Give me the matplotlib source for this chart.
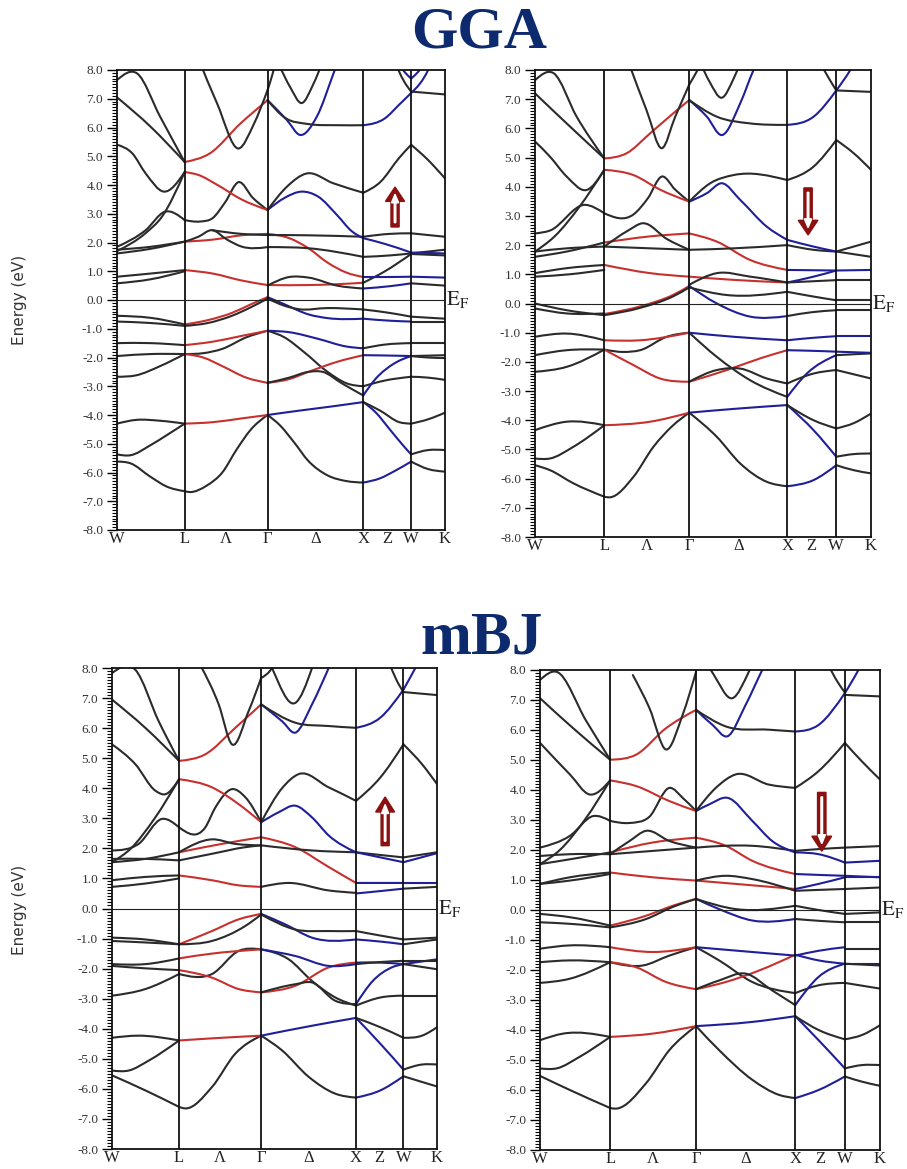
import matplotlib
matplotlib.use("Agg")
import matplotlib.pyplot as plt
import numpy as np
from matplotlib.path import Path
from matplotlib.patches import PathPatch, FancyArrow
from matplotlib.ticker import MultipleLocator

plt.rcParams['axes.unicode_minus'] = False
plt.rcParams['mathtext.fontset'] = 'stix'

# k-path (units of 2*pi/a): W - L - Gamma - X - W - K
k_labels = ['W', 'L', 'Λ', 'Γ', 'Δ', 'X', 'Z', 'W', 'K']
k_ticks = [0.0, 0.707, 1.140, 1.573, 2.073, 2.573, 2.823, 3.073, 3.427]
k_lines = [0.707, 1.573, 2.573, 3.073]
k_end = 3.427

# bands: (colour, k values, energies in eV); k=black, r=red, b=blue
gga_up_bands = [
    ('k', [0, 0.14, 0.35, 0.52, 0.707], [-5.62, -5.68, -6.15, -6.49, -6.65]),
    ('k', [0.707, 0.76, 0.94, 1.1, 1.25, 1.4, 1.573], [-6.65, -6.68, -6.45, -6.0, -5.2, -4.5, -4.0]),
    ('k', [1.573, 1.7, 1.85, 2.0, 2.2, 2.4, 2.573], [-4.0, -4.35, -4.95, -5.6, -6.1, -6.3, -6.35]),
    ('b', [2.573, 2.75, 2.9, 3.073], [-6.35, -6.2, -5.95, -5.62]),
    ('k', [3.073, 3.25, 3.427], [-5.62, -5.88, -5.97]),
    ('k', [0, 0.14, 0.35, 0.52, 0.707], [-5.37, -5.4, -5.05, -4.7, -4.3]),
    ('r', [0.707, 1.0, 1.3, 1.573], [-4.3, -4.25, -4.12, -4.0]),
    ('b', [1.573, 1.9, 2.25, 2.573], [-4.0, -3.85, -3.7, -3.55]),
    ('b', [2.573, 2.7, 2.85, 3.0, 3.073], [-3.55, -3.9, -4.5, -5.1, -5.37]),
    ('k', [3.073, 3.25, 3.427], [-5.37, -5.22, -5.22]),
    ('k', [0, 0.2, 0.45, 0.707], [-4.3, -4.17, -4.2, -4.3]),
    ('k', [2.573, 2.75, 2.95, 3.073], [-3.55, -3.85, -4.25, -4.3]),
    ('k', [3.073, 3.25, 3.427], [-4.3, -4.15, -3.92]),
    ('k', [0, 0.2, 0.45, 0.707], [-2.67, -2.62, -2.3, -1.88]),
    ('k', [0.707, 0.9, 1.1, 1.35, 1.573], [-1.88, -1.85, -1.7, -1.3, -1.07]),
    ('k', [1.573, 1.75, 1.95, 2.2, 2.4, 2.573], [-1.07, -1.3, -1.8, -2.5, -2.9, -3.0]),
    ('k', [2.573, 2.8, 3.073], [-3.0, -2.8, -2.67]),
    ('k', [3.073, 3.25, 3.427], [-2.67, -2.7, -2.78]),
    ('k', [0, 0.35, 0.707], [-1.95, -1.88, -1.88]),
    ('r', [0.707, 0.9, 1.1, 1.35, 1.573], [-1.88, -2.0, -2.3, -2.7, -2.88]),
    ('r', [1.573, 1.8, 2.0, 2.3, 2.573], [-2.88, -2.75, -2.5, -2.15, -1.92]),
    ('b', [2.573, 2.8, 3.073], [-1.92, -1.93, -1.95]),
    ('k', [3.073, 3.427], [-1.95, -1.92]),
    ('k', [1.573, 1.8, 2.0, 2.15, 2.35, 2.573], [-2.88, -2.7, -2.5, -2.5, -2.9, -3.32]),
    ('b', [2.573, 2.7, 2.9, 3.073], [-3.32, -2.75, -2.2, -1.95]),
    ('k', [3.073, 3.25, 3.427], [-1.95, -2.0, -2.02]),
    ('k', [0, 0.35, 0.707], [-1.5, -1.5, -1.57]),
    ('r', [0.707, 1.0, 1.3, 1.573], [-1.57, -1.45, -1.25, -1.07]),
    ('b', [1.573, 1.8, 2.1, 2.4, 2.573], [-1.07, -1.12, -1.35, -1.62, -1.68]),
    ('k', [2.573, 2.8, 3.073], [-1.68, -1.55, -1.5]),
    ('k', [3.073, 3.427], [-1.5, -1.5]),
    ('k', [0, 0.35, 0.707], [-0.55, -0.62, -0.85]),
    ('r', [0.707, 0.95, 1.2, 1.4, 1.573], [-0.85, -0.7, -0.45, -0.15, 0.1]),
    ('b', [1.573, 1.75, 2.0, 2.2, 2.573], [0.1, -0.15, -0.5, -0.63, -0.65]),
    ('b', [2.573, 2.85, 3.073], [-0.65, -0.72, -0.75]),
    ('k', [3.073, 3.427], [-0.75, -0.75]),
    ('k', [0, 0.35, 0.707], [-0.75, -0.8, -0.9]),
    ('k', [0.707, 0.95, 1.2, 1.4, 1.573], [-0.9, -0.8, -0.55, -0.25, 0.05]),
    ('k', [1.573, 1.75, 1.9, 2.2, 2.573], [0.05, -0.2, -0.32, -0.28, -0.33]),
    ('k', [2.573, 2.85, 3.073], [-0.33, -0.45, -0.58]),
    ('k', [3.073, 3.427], [-0.58, -0.65]),
    ('k', [0, 0.35, 0.707], [0.81, 0.92, 1.04]),
    ('r', [0.707, 1.0, 1.3, 1.573], [1.04, 0.92, 0.68, 0.52]),
    ('r', [1.573, 2.0, 2.3, 2.573], [0.52, 0.52, 0.55, 0.6]),
    ('k', [2.573, 2.8, 3.073], [0.6, 1.0, 1.6]),
    ('k', [3.073, 3.427], [1.6, 1.55]),
    ('k', [0, 0.35, 0.707], [0.58, 0.72, 1.0]),
    ('k', [1.573, 1.8, 2.0, 2.3, 2.573], [0.5, 0.8, 0.78, 0.5, 0.4]),
    ('b', [2.573, 2.85, 3.073], [0.4, 0.48, 0.58]),
    ('k', [3.073, 3.427], [0.58, 0.5]),
    ('k', [0, 0.35, 0.707], [1.62, 1.78, 2.03]),
    ('r', [0.707, 1.0, 1.3, 1.573], [2.03, 2.1, 2.25, 2.3]),
    ('r', [1.573, 1.8, 2.0, 2.2, 2.4, 2.573], [2.3, 2.15, 1.8, 1.3, 0.95, 0.8]),
    ('b', [2.573, 2.85, 3.073], [0.8, 0.8, 0.81]),
    ('b', [3.073, 3.427], [0.81, 0.78]),
    ('k', [0, 0.35, 0.707], [1.75, 1.85, 2.03]),
    ('k', [0.707, 0.85, 0.99, 1.15, 1.3, 1.573], [2.03, 2.2, 2.43, 2.1, 1.86, 1.84]),
    ('k', [1.573, 2.0, 2.573], [1.84, 1.8, 1.5]),
    ('k', [2.573, 2.85, 3.073], [1.5, 1.55, 1.62]),
    ('k', [3.073, 3.427], [1.62, 1.75]),
    ('k', [0.99, 1.3, 1.573], [2.43, 2.3, 2.26]),
    ('k', [1.573, 2.0, 2.573], [2.26, 2.25, 2.2]),
    ('k', [2.573, 2.85, 3.073], [2.2, 2.3, 2.32]),
    ('k', [3.073, 3.427], [2.32, 2.2]),
    ('k', [0, 0.3, 0.5, 0.707], [1.85, 2.43, 3.07, 2.78]),
    ('k', [0.707, 0.87, 1.0, 1.13, 1.27, 1.42, 1.573], [2.78, 2.73, 2.85, 3.4, 4.1, 3.55, 3.13]),
    ('b', [1.573, 1.75, 1.93, 2.1, 2.3, 2.45, 2.573], [3.13, 3.55, 3.77, 3.6, 2.95, 2.4, 2.15]),
    ('b', [2.573, 2.8, 3.073], [2.15, 1.95, 1.65]),
    ('b', [3.073, 3.427], [1.65, 1.62]),
    ('k', [0, 0.3, 0.47, 0.707], [1.7, 2.33, 2.9, 4.45]),
    ('r', [0.707, 0.85, 1.05, 1.3, 1.573], [4.45, 4.35, 4.0, 3.5, 3.13]),
    ('k', [1.573, 1.775, 1.98, 2.26, 2.573], [3.13, 3.94, 4.4, 4.06, 3.73]),
    ('k', [2.573, 2.75, 2.95, 3.073], [3.73, 4.1, 4.95, 5.4]),
    ('k', [3.073, 3.25, 3.427], [5.4, 4.87, 4.23]),
    ('k', [0, 0.16, 0.3, 0.49, 0.707], [5.4, 5.1, 4.4, 3.77, 4.45]),
    ('k', [0, 0.21, 0.45, 0.707], [7.65, 7.88, 6.38, 4.8]),
    ('r', [0.707, 0.97, 1.29, 1.573], [4.8, 5.1, 6.14, 6.95]),
    ('b', [1.573, 1.775, 1.914, 2.088, 2.262, 2.32], [6.95, 6.26, 5.74, 6.38, 7.88, 8.4]),
    ('b', [2.9, 3.0, 3.073], [8.4, 7.95, 7.7]),
    ('b', [3.073, 3.15, 3.25], [7.7, 7.95, 8.4]),
    ('k', [1.573, 1.75, 2.0, 2.3, 2.573], [6.95, 6.35, 6.12, 6.08, 6.08]),
    ('b', [2.573, 2.8, 2.95, 3.073], [6.08, 6.32, 6.8, 7.2]),
    ('b', [3.073, 3.25, 3.3], [7.2, 8.0, 8.4]),
    ('k', [2.9, 3.0, 3.073], [8.3, 7.6, 7.25]),
    ('k', [3.073, 3.25, 3.427], [7.25, 7.2, 7.15]),
    ('k', [0, 0.35, 0.707], [7.05, 6.03, 4.8]),
    ('k', [0.85, 1.044, 1.27, 1.427, 1.573], [8.4, 6.85, 5.27, 6.1, 7.3]),
    ('k', [1.573, 1.62, 1.66], [7.3, 7.8, 8.3]),
    ('k', [1.69, 1.81, 1.93, 2.05, 2.15], [8.2, 7.4, 6.85, 7.5, 8.3]),
]

gga_dn_bands = [
    ('k', [0, 0.153, 0.391, 0.707], [-5.54, -5.71, -6.16, -6.62]),
    ('k', [0.707, 0.766, 1.004, 1.208, 1.4, 1.573], [-6.62, -6.64, -5.94, -4.91, -4.2, -3.74]),
    ('k', [1.573, 1.855, 2.093, 2.365, 2.573], [-3.74, -4.57, -5.48, -6.11, -6.26]),
    ('b', [2.573, 2.841, 3.073], [-6.26, -6.05, -5.54]),
    ('k', [3.073, 3.25, 3.427], [-5.54, -5.71, -5.82]),
    ('k', [0, 0.153, 0.391, 0.707], [-5.31, -5.31, -4.91, -4.17]),
    ('r', [0.707, 1.174, 1.573], [-4.17, -4.05, -3.74]),
    ('b', [1.573, 2.07, 2.573], [-3.74, -3.6, -3.48]),
    ('b', [2.573, 2.841, 3.073], [-3.48, -4.34, -5.25]),
    ('k', [3.073, 3.25, 3.427], [-5.25, -5.16, -5.14]),
    ('k', [0, 0.323, 0.707], [-4.34, -4.05, -4.17]),
    ('k', [2.573, 2.841, 3.073], [-3.48, -4.0, -4.28]),
    ('k', [3.073, 3.25, 3.427], [-4.28, -4.1, -3.77]),
    ('k', [0, 0.323, 0.707], [-2.34, -2.17, -1.58]),
    ('k', [0.707, 0.902, 1.072, 1.344, 1.573], [-1.58, -1.66, -1.6, -1.14, -1.0]),
    ('k', [1.573, 1.855, 2.195, 2.573], [-1.0, -1.83, -2.63, -3.2]),
    ('b', [2.573, 2.773, 3.073], [-3.2, -2.4, -1.77]),
    ('k', [3.073, 3.427], [-1.77, -1.71]),
    ('k', [0, 0.323, 0.707], [-1.77, -1.6, -1.58]),
    ('r', [0.707, 1.004, 1.276, 1.573], [-1.58, -2.11, -2.57, -2.68]),
    ('r', [1.573, 1.957, 2.297, 2.573], [-2.68, -2.28, -1.88, -1.6]),
    ('b', [2.573, 2.82, 3.073], [-1.6, -1.62, -1.65]),
    ('b', [3.073, 3.427], [-1.65, -1.69]),
    ('k', [1.573, 1.855, 2.093, 2.365, 2.573], [-2.68, -2.28, -2.23, -2.57, -2.74]),
    ('k', [2.573, 2.841, 3.073], [-2.74, -2.4, -2.28]),
    ('k', [3.073, 3.427], [-2.28, -2.57]),
    ('k', [0, 0.323, 0.707], [-1.14, -1.03, -1.26]),
    ('r', [0.707, 1.072, 1.573], [-1.26, -1.26, -1.0]),
    ('b', [1.573, 2.025, 2.573], [-1.0, -1.14, -1.26]),
    ('b', [2.573, 2.82, 3.073], [-1.26, -1.18, -1.12]),
    ('b', [3.073, 3.427], [-1.12, -1.12]),
    ('k', [0, 0.323, 0.707], [-0.17, -0.34, -0.34]),
    ('r', [0.707, 1.072, 1.412, 1.573], [-0.36, -0.1, 0.3, 0.6]),
    ('b', [1.573, 1.855, 2.195, 2.573], [0.6, 0.0, -0.45, -0.43]),
    ('k', [2.573, 2.82, 3.073], [-0.43, -0.3, -0.23]),
    ('k', [3.073, 3.427], [-0.23, -0.23]),
    ('k', [0, 0.323, 0.707], [0.0, -0.23, -0.4]),
    ('k', [0.707, 1.072, 1.412, 1.573], [-0.4, -0.15, 0.25, 0.55]),
    ('k', [1.573, 1.957, 2.573], [0.55, 0.29, 0.4]),
    ('k', [2.573, 2.82, 3.073], [0.4, 0.25, 0.11]),
    ('k', [3.073, 3.427], [0.11, 0.11]),
    ('k', [0, 0.323, 0.707], [1.04, 1.21, 1.32]),
    ('r', [0.707, 1.174, 1.573], [1.32, 1.04, 0.92]),
    ('r', [1.573, 2.025, 2.573], [0.92, 0.81, 0.72]),
    ('b', [2.573, 2.841, 3.073], [0.72, 0.92, 1.13]),
    ('b', [3.073, 3.427], [1.13, 1.15]),
    ('k', [0, 0.35, 0.707], [0.92, 1.0, 1.15]),
    ('k', [1.573, 1.855, 2.195, 2.573], [0.64, 1.04, 0.92, 0.72]),
    ('k', [2.573, 2.82, 3.073], [0.72, 0.76, 0.8]),
    ('k', [3.073, 3.427], [0.8, 0.8]),
    ('k', [0, 0.323, 0.707], [1.6, 1.78, 2.09]),
    ('r', [0.707, 1.174, 1.573], [2.09, 2.3, 2.4]),
    ('r', [1.573, 1.855, 2.195, 2.573], [2.4, 2.12, 1.49, 1.15]),
    ('b', [2.573, 2.82, 3.073], [1.15, 1.14, 1.13]),
    ('k', [0, 0.323, 0.707], [1.78, 1.89, 1.95]),
    ('k', [0.707, 0.95, 1.1, 1.35, 1.573], [1.95, 2.5, 2.75, 2.2, 1.84]),
    ('k', [0.707, 1.1, 1.573], [1.95, 1.9, 1.84]),
    ('k', [1.573, 2.025, 2.573], [1.84, 1.89, 2.0]),
    ('k', [2.573, 2.841, 3.073], [2.0, 1.84, 1.78]),
    ('k', [3.073, 3.427], [1.78, 1.6]),
    ('k', [0, 0.153, 0.51, 0.707], [2.4, 2.5, 3.38, 3.09]),
    ('k', [0.707, 1.004, 1.15, 1.293, 1.43, 1.573], [3.09, 3.05, 3.6, 4.35, 3.9, 3.49]),
    ('b', [1.573, 1.753, 1.906, 2.093, 2.365, 2.573], [3.49, 3.78, 4.12, 3.55, 2.63, 2.18]),
    ('b', [2.573, 2.841, 3.073], [2.18, 1.95, 1.78]),
    ('k', [3.073, 3.427], [1.78, 2.12]),
    ('k', [0, 0.2, 0.45, 0.707], [1.78, 2.3, 3.3, 4.58]),
    ('r', [0.707, 1.004, 1.276, 1.573], [4.58, 4.4, 3.9, 3.49]),
    ('k', [1.573, 1.787, 2.025, 2.573], [3.49, 4.12, 4.4, 4.23]),
    ('k', [2.573, 2.841, 3.073], [4.23, 4.69, 5.6]),
    ('k', [3.073, 3.25, 3.427], [5.6, 5.15, 4.58]),
    ('k', [0, 0.153, 0.323, 0.527, 0.707], [5.55, 5.03, 4.35, 3.89, 4.58]),
    ('k', [0, 0.19, 0.425, 0.707], [7.65, 7.89, 6.4, 4.97]),
    ('r', [0.707, 0.936, 1.174, 1.412, 1.573], [4.97, 5.15, 5.83, 6.52, 6.97]),
    ('b', [1.573, 1.753, 1.906, 2.093, 2.229, 2.3], [6.97, 6.4, 5.77, 6.86, 8.0, 8.5]),
    ('k', [0, 0.323, 0.707], [7.2, 6.17, 4.97]),
    ('k', [0.95, 1.14, 1.293, 1.43, 1.573], [8.3, 6.6, 5.32, 6.4, 7.5]),
    ('k', [1.573, 1.65, 1.72], [7.5, 7.95, 8.4]),
    ('k', [1.68, 1.78, 1.906, 2.025, 2.1], [8.3, 7.6, 7.05, 7.7, 8.3]),
    ('k', [1.573, 1.855, 2.195, 2.573], [6.97, 6.4, 6.17, 6.12]),
    ('b', [2.573, 2.841, 3.073], [6.12, 6.4, 7.3]),
    ('b', [3.073, 3.216, 3.3], [7.3, 8.0, 8.5]),
    ('k', [2.9, 3.0, 3.073], [8.3, 7.7, 7.3]),
    ('k', [3.073, 3.427], [7.3, 7.25]),
]

mbj_up_bands = [
    ('k', [0, 0.351, 0.707], [-5.55, -6.05, -6.6]),
    ('k', [0.707, 0.773, 1.054, 1.3, 1.573], [-6.6, -6.65, -5.94, -4.83, -4.23]),
    ('k', [1.573, 1.793, 2.074, 2.355, 2.573], [-4.23, -4.72, -5.6, -6.16, -6.29]),
    ('b', [2.573, 2.83, 3.073], [-6.29, -6.05, -5.58]),
    ('k', [3.073, 3.269, 3.427], [-5.58, -5.77, -5.92]),
    ('k', [0, 0.176, 0.387, 0.707], [-5.39, -5.39, -5.06, -4.39]),
    ('r', [0.707, 1.16, 1.573], [-4.39, -4.3, -4.23]),
    ('b', [1.573, 2.109, 2.573], [-4.23, -3.9, -3.64]),
    ('b', [2.573, 2.83, 3.073], [-3.64, -4.5, -5.36]),
    ('k', [3.073, 3.269, 3.427], [-5.36, -5.19, -5.19]),
    ('k', [0, 0.281, 0.707], [-4.3, -4.23, -4.39]),
    ('k', [2.573, 2.83, 3.073], [-3.64, -3.95, -4.3]),
    ('k', [3.073, 3.269, 3.427], [-4.3, -4.23, -3.95]),
    ('k', [0, 0.351, 0.707], [-2.9, -2.68, -2.18]),
    ('k', [0.707, 1.054, 1.336, 1.573], [-2.18, -2.18, -1.41, -1.36]),
    ('k', [1.573, 1.863, 2.109, 2.355, 2.573], [-1.36, -1.69, -2.41, -2.96, -3.23]),
    ('k', [2.573, 2.83, 3.073], [-3.23, -2.96, -2.9]),
    ('k', [3.073, 3.427], [-2.9, -2.9]),
    ('k', [0, 0.351, 0.707], [-1.91, -1.99, -2.05]),
    ('r', [0.707, 1.054, 1.336, 1.573], [-2.05, -2.3, -2.68, -2.79]),
    ('r', [1.573, 1.933, 2.285, 2.573], [-2.79, -2.57, -1.96, -1.8]),
    ('b', [2.573, 2.83, 3.073], [-1.8, -1.8, -1.85]),
    ('b', [3.073, 3.427], [-1.85, -1.69]),
    ('k', [1.573, 1.933, 2.109, 2.355, 2.573], [-2.79, -2.52, -2.46, -3.07, -3.18]),
    ('b', [2.573, 2.75, 2.95, 3.073], [-3.18, -2.41, -1.96, -1.85]),
    ('k', [3.073, 3.427], [-1.85, -2.02]),
    ('k', [0, 0.351, 0.707], [-1.85, -1.85, -1.66]),
    ('r', [0.707, 1.054, 1.573], [-1.66, -1.5, -1.36]),
    ('b', [1.573, 1.933, 2.285, 2.573], [-1.36, -1.58, -1.91, -1.85]),
    ('k', [2.573, 2.83, 3.073], [-1.85, -1.78, -1.74]),
    ('k', [3.073, 3.427], [-1.74, -1.74]),
    ('k', [0, 0.351, 0.707], [-0.97, -1.03, -1.19]),
    ('r', [0.707, 1.054, 1.336, 1.573], [-1.19, -0.75, -0.36, -0.18]),
    ('b', [1.573, 1.828, 2.109, 2.573], [-0.18, -0.53, -0.97, -1.03]),
    ('b', [2.573, 2.83, 3.073], [-1.03, -1.1, -1.19]),
    ('k', [3.073, 3.427], [-1.19, -1.03]),
    ('k', [0, 0.351, 0.707], [-1.08, -1.13, -1.19]),
    ('k', [0.707, 1.054, 1.406, 1.573], [-1.19, -1.08, -0.58, -0.2]),
    ('k', [1.573, 1.933, 2.285, 2.573], [-0.2, -0.7, -0.75, -0.75]),
    ('k', [2.573, 2.83, 3.073], [-0.75, -0.9, -1.03]),
    ('k', [3.073, 3.427], [-1.03, -0.97]),
    ('k', [0, 0.351, 0.707], [0.94, 1.05, 1.1]),
    ('r', [0.707, 1.054, 1.336, 1.573], [1.1, 0.94, 0.77, 0.72]),
    ('k', [1.573, 1.863, 2.285, 2.573], [0.72, 0.85, 0.6, 0.52]),
    ('b', [2.573, 2.83, 3.073], [0.85, 0.85, 0.85]),
    ('b', [3.073, 3.427], [0.85, 0.85]),
    ('k', [0, 0.351, 0.707], [0.72, 0.83, 1.0]),
    ('b', [2.573, 2.83, 3.073], [0.5, 0.58, 0.66]),
    ('k', [3.073, 3.427], [0.66, 0.72]),
    ('k', [0, 0.351, 0.707], [1.54, 1.65, 1.87]),
    ('r', [0.707, 1.16, 1.573], [1.87, 2.15, 2.37]),
    ('r', [1.573, 1.933, 2.285, 2.573], [2.37, 2.04, 1.38, 0.85]),
    ('k', [0, 0.351, 0.707], [1.65, 1.65, 1.6]),
    ('k', [0.707, 1.054, 1.406, 1.573], [1.6, 1.82, 2.04, 2.1]),
    ('k', [0.707, 1.054, 1.3, 1.573], [1.87, 2.3, 2.15, 2.1]),
    ('k', [1.573, 2.109, 2.573], [2.1, 1.93, 1.87]),
    ('k', [2.573, 2.83, 3.073], [1.87, 1.78, 1.7]),
    ('k', [3.073, 3.427], [1.7, 1.87]),
    ('k', [0, 0.281, 0.527, 0.707], [1.93, 2.15, 2.98, 2.7]),
    ('k', [0.707, 0.984, 1.09, 1.265, 1.406, 1.573], [2.7, 2.7, 3.36, 3.97, 3.7, 2.87]),
    ('b', [1.573, 1.757, 1.933, 2.109, 2.285, 2.573], [2.87, 3.2, 3.42, 3.03, 2.43, 1.87]),
    ('b', [2.573, 2.83, 3.073], [1.87, 1.7, 1.54]),
    ('b', [3.073, 3.427], [1.54, 1.84]),
    ('k', [0, 0.2, 0.45, 0.707], [1.54, 2.0, 3.0, 4.3]),
    ('r', [0.707, 1.054, 1.336, 1.573], [4.3, 4.03, 3.47, 2.87]),
    ('k', [1.573, 1.793, 1.968, 2.285, 2.573], [2.87, 4.0, 4.47, 4.03, 3.58]),
    ('k', [2.573, 2.83, 3.073], [3.58, 4.36, 5.46]),
    ('k', [3.073, 3.269, 3.427], [5.46, 4.8, 4.14]),
    ('k', [0, 0.246, 0.457, 0.562, 0.707], [5.46, 4.8, 3.92, 3.8, 4.3]),
    ('k', [0, 0.246, 0.492, 0.707], [7.83, 7.94, 6.23, 4.91]),
    ('r', [0.707, 0.984, 1.3, 1.573], [4.91, 5.13, 6.01, 6.79]),
    ('b', [1.573, 1.793, 1.933, 2.109, 2.285, 2.34], [6.79, 6.23, 5.85, 6.79, 8.0, 8.4]),
    ('k', [0, 0.351, 0.707], [6.95, 6.01, 4.91]),
    ('k', [0.93, 1.125, 1.265, 1.441, 1.573], [8.1, 6.79, 5.46, 6.57, 7.67]),
    ('k', [1.573, 1.687, 1.75], [7.67, 8.0, 8.4]),
    ('k', [1.62, 1.687, 1.933, 2.109, 2.16], [8.5, 8.0, 6.84, 8.0, 8.5]),
    ('k', [1.573, 1.933, 2.285, 2.573], [6.79, 6.18, 6.07, 6.01]),
    ('b', [2.573, 2.83, 3.073], [6.01, 6.35, 7.28]),
    ('b', [3.073, 3.199, 3.3], [7.28, 8.0, 8.6]),
    ('k', [2.92, 3.0, 3.073], [8.2, 7.6, 7.2]),
    ('k', [3.073, 3.427], [7.2, 7.1]),
]

mbj_dn_bands = [
    ('k', [0, 0.301, 0.707], [-5.53, -6.0, -6.6]),
    ('k', [0.707, 0.769, 1.07, 1.304, 1.573], [-6.6, -6.62, -5.77, -4.67, -3.87]),
    ('k', [1.573, 1.805, 2.14, 2.407, 2.573], [-3.87, -4.67, -5.66, -6.16, -6.27]),
    ('b', [2.573, 2.808, 3.073], [-6.27, -6.0, -5.55]),
    ('k', [3.073, 3.243, 3.427], [-5.55, -5.72, -5.86]),
    ('k', [0, 0.167, 0.401, 0.707], [-5.28, -5.28, -4.89, -4.23]),
    ('r', [0.707, 1.137, 1.573], [-4.23, -4.12, -3.87]),
    ('b', [1.573, 2.14, 2.573], [-3.87, -3.73, -3.54]),
    ('b', [2.573, 2.808, 3.073], [-3.54, -4.34, -5.28]),
    ('k', [3.073, 3.243, 3.427], [-5.28, -5.17, -5.17]),
    ('k', [0, 0.234, 0.707], [-4.34, -4.12, -4.23]),
    ('k', [2.573, 2.808, 3.073], [-3.54, -4.0, -4.31]),
    ('k', [3.073, 3.243, 3.427], [-4.31, -4.17, -3.84]),
    ('k', [0, 0.301, 0.707], [-2.43, -2.29, -1.74]),
    ('k', [0.707, 1.036, 1.304, 1.573], [-1.74, -1.85, -1.52, -1.24]),
    ('k', [1.573, 1.805, 2.14, 2.573], [-1.24, -1.68, -2.4, -2.77]),
    ('k', [2.573, 2.808, 3.073], [-2.77, -2.51, -2.43]),
    ('k', [3.073, 3.427], [-2.43, -2.62]),
    ('k', [0, 0.301, 0.707], [-1.74, -1.68, -1.74]),
    ('r', [0.707, 0.97, 1.27, 1.573], [-1.74, -1.91, -2.4, -2.64]),
    ('r', [1.573, 1.872, 2.206, 2.573], [-2.64, -2.4, -2.02, -1.49]),
    ('b', [2.573, 2.808, 3.073], [-1.49, -1.68, -1.79]),
    ('b', [3.073, 3.427], [-1.79, -1.79]),
    ('k', [1.573, 1.805, 2.073, 2.34, 2.573], [-2.64, -2.35, -2.12, -2.68, -3.17]),
    ('b', [2.573, 2.808, 3.073], [-3.17, -2.23, -1.79]),
    ('k', [3.073, 3.427], [-1.79, -1.85]),
    ('k', [0, 0.301, 0.707], [-1.29, -1.18, -1.24]),
    ('r', [0.707, 1.137, 1.573], [-1.24, -1.4, -1.24]),
    ('b', [1.573, 2.14, 2.573], [-1.24, -1.4, -1.52]),
    ('b', [2.573, 2.808, 3.073], [-1.52, -1.36, -1.24]),
    ('k', [3.073, 3.427], [-1.29, -1.29]),
    ('k', [0, 0.301, 0.707], [-0.13, -0.24, -0.52]),
    ('r', [0.707, 1.07, 1.337, 1.573], [-0.52, -0.19, 0.14, 0.37]),
    ('b', [1.573, 1.805, 2.14, 2.573], [0.37, 0.03, -0.35, -0.3]),
    ('k', [2.573, 2.808, 3.073], [-0.3, -0.36, -0.41]),
    ('k', [3.073, 3.427], [-0.41, -0.41]),
    ('k', [0, 0.301, 0.707], [-0.41, -0.46, -0.58]),
    ('k', [0.707, 1.07, 1.337, 1.573], [-0.58, -0.3, 0.1, 0.37]),
    ('k', [1.573, 1.973, 2.573], [0.37, 0.03, 0.14]),
    ('k', [2.573, 2.808, 3.073], [0.14, 0.0, -0.13]),
    ('k', [3.073, 3.427], [-0.13, -0.08]),
    ('k', [0, 0.301, 0.707], [0.87, 1.09, 1.25]),
    ('r', [0.707, 1.137, 1.573], [1.25, 1.09, 0.98]),
    ('r', [1.573, 1.973, 2.573], [0.98, 0.87, 0.7]),
    ('b', [2.573, 2.808, 3.073], [0.7, 0.87, 1.09]),
    ('b', [3.073, 3.427], [1.09, 1.09]),
    ('k', [0, 0.301, 0.707], [0.87, 0.98, 1.2]),
    ('k', [1.573, 1.872, 2.14, 2.573], [0.98, 1.14, 1.03, 0.64]),
    ('k', [2.573, 2.808, 3.073], [0.64, 0.67, 0.7]),
    ('k', [3.073, 3.427], [0.7, 0.75]),
    ('k', [0, 0.301, 0.707], [1.53, 1.69, 1.92]),
    ('r', [0.707, 1.137, 1.573], [1.92, 2.25, 2.41]),
    ('r', [1.573, 1.872, 2.14, 2.573], [2.41, 2.14, 1.64, 1.2]),
    ('b', [2.573, 2.808, 3.073], [1.2, 1.17, 1.14]),
    ('b', [3.073, 3.427], [1.14, 1.09]),
    ('k', [0, 0.301, 0.707], [1.8, 1.86, 1.86]),
    ('k', [0.707, 1.137, 1.573], [1.86, 1.97, 2.08]),
    ('k', [0.707, 0.903, 1.07, 1.304, 1.573], [1.86, 2.3, 2.64, 2.3, 2.08]),
    ('k', [1.573, 2.14, 2.573], [2.08, 2.14, 1.97]),
    ('k', [2.573, 2.808, 3.073], [1.97, 2.03, 2.08]),
    ('k', [3.073, 3.427], [2.08, 2.13]),
    ('k', [0, 0.301, 0.535, 0.707], [2.08, 2.47, 3.13, 2.97]),
    ('k', [0.707, 0.9, 1.1, 1.304, 1.45, 1.573], [2.97, 2.9, 3.1, 4.07, 3.7, 3.3]),
    ('b', [1.573, 1.705, 1.889, 2.14, 2.34, 2.573], [3.3, 3.52, 3.74, 2.97, 2.3, 1.92]),
    ('b', [2.573, 2.808, 3.073], [1.92, 1.86, 1.58]),
    ('b', [3.073, 3.427], [1.58, 1.64]),
    ('k', [0, 0.2, 0.45, 0.707], [1.53, 2.0, 3.0, 4.32]),
    ('r', [0.707, 0.97, 1.304, 1.573], [4.32, 4.13, 3.63, 3.3]),
    ('k', [1.573, 1.772, 1.973, 2.307, 2.573], [3.3, 4.07, 4.52, 4.18, 4.07]),
    ('k', [2.573, 2.808, 3.073], [4.07, 4.63, 5.57]),
    ('k', [3.073, 3.243, 3.427], [5.57, 4.96, 4.35]),
    ('k', [0, 0.301, 0.501, 0.707], [5.57, 4.52, 3.85, 4.32]),
    ('k', [0, 0.167, 0.468, 0.707], [7.67, 7.94, 6.29, 5.01]),
    ('r', [0.707, 0.97, 1.27, 1.573], [5.01, 5.18, 6.06, 6.67]),
    ('b', [1.573, 1.739, 1.889, 2.073, 2.24, 2.3], [6.67, 6.17, 5.79, 6.84, 8.0, 8.4]),
    ('k', [0, 0.334, 0.707], [7.06, 6.06, 5.01]),
    ('k', [0.936, 1.103, 1.27, 1.438, 1.573], [7.83, 6.73, 5.35, 6.51, 7.94]),
    ('k', [1.65, 1.75, 1.939, 2.106, 2.18], [8.4, 7.85, 7.06, 7.95, 8.5]),
    ('k', [1.573, 1.872, 2.307, 2.573], [6.67, 6.12, 6.01, 5.95]),
    ('b', [2.573, 2.808, 3.073], [5.95, 6.17, 7.23]),
    ('b', [3.073, 3.209, 3.3], [7.23, 8.0, 8.6]),
    ('k', [2.9, 3.0, 3.073], [8.2, 7.6, 7.25]),
    ('k', [3.073, 3.427], [7.17, 7.12]),
]

colours = {'k': '#2b2b2b', 'r': '#c8302e', 'b': '#1f1f99'}


def band_path(ks, es):
    # smooth Hermite curve through the read points, drawn as cubic Bezier segments
    x = np.asarray(ks, dtype=float)
    y = np.asarray(es, dtype=float)
    if len(x) == 2:
        return Path(np.column_stack([x, y]), [Path.MOVETO, Path.LINETO])
    h = np.diff(x)
    s = np.diff(y) / h
    d = np.empty_like(y)
    d[1:-1] = (h[1:] * s[:-1] + h[:-1] * s[1:]) / (h[:-1] + h[1:])
    d[0] = 1.5 * s[0] - 0.5 * d[1]
    d[-1] = 1.5 * s[-1] - 0.5 * d[-2]
    verts = [(x[0], y[0])]
    codes = [Path.MOVETO]
    for i in range(len(x) - 1):
        verts += [(x[i] + h[i] / 3, y[i] + d[i] * h[i] / 3),
                  (x[i + 1] - h[i] / 3, y[i + 1] - d[i + 1] * h[i] / 3),
                  (x[i + 1], y[i + 1])]
        codes += [Path.CURVE4] * 3
    return Path(verts, codes)


def draw_panel(ax, bands, arrow):
    ax.set_xlim(0, k_end)
    ax.set_ylim(-8, 8)
    for c, ks, es in bands:
        ax.add_patch(PathPatch(band_path(ks, es), fill=False, edgecolor=colours[c], lw=1.5,
                               capstyle='round', joinstyle='round'))
    for k in k_lines:
        ax.axvline(k, color='#111111', lw=1.3)
    ax.axhline(0, color='#222222', lw=0.8)

    ax.yaxis.set_major_locator(MultipleLocator(1.0))
    ax.yaxis.set_minor_locator(MultipleLocator(0.1))
    ax.set_yticklabels([f'{v:.1f}' for v in ax.get_yticks()])
    ax.tick_params(axis='y', which='major', direction='out', length=7, width=1.0, pad=3,
                   labelsize=9.5, labelcolor='#333333')
    ax.tick_params(axis='y', which='minor', direction='out', length=3.5, width=0.8)
    for lab in ax.get_yticklabels():
        lab.set_family('Liberation Serif')
    ax.set_xticks(k_ticks)
    ax.set_xticklabels(k_labels, family='Liberation Serif', fontsize=12, color='#222222')
    ax.tick_params(axis='x', length=0, pad=1)
    for sp in ax.spines.values():
        sp.set_linewidth(1.3)
        sp.set_color('#111111')

    ax.text(1.004, 0, r'$\mathrm{E_F}$', transform=ax.get_yaxis_transform(),
            fontsize=15, va='center', ha='left', color='#222222')

    k0, e0, de = arrow
    ax.add_patch(FancyArrow(k0, e0, 0, de, width=0.085, head_width=0.2, head_length=0.5,
                            length_includes_head=True, color='#8b1010', zorder=5))
    sgn = np.sign(de)
    ax.add_patch(FancyArrow(k0, e0 + 0.15 * sgn, 0, de - 0.4 * sgn, width=0.016, head_width=0.075,
                            head_length=0.3, length_includes_head=True, color='white', zorder=6))


fig = plt.figure(figsize=(9.07, 11.69), dpi=100)
W, H = 907.0, 1169.0


def add_axes(left, top, right, bottom):
    return fig.add_axes([left / W, 1 - bottom / H, (right - left) / W, (bottom - top) / H])


ax1 = add_axes(117, 70, 445, 530)
ax2 = add_axes(535, 70, 871, 537)
ax3 = add_axes(112, 668, 437, 1149)
ax4 = add_axes(540, 670, 880, 1150)

draw_panel(ax1, gga_up_bands, (2.905, 2.54, 1.39))
draw_panel(ax2, gga_dn_bands, (2.785, 3.96, -1.61))
draw_panel(ax3, mbj_up_bands, (2.88, 2.09, 1.62))
draw_panel(ax4, mbj_dn_bands, (2.84, 3.92, -1.96))

fig.text(479 / W, 1 - 33 / H, 'GGA', family='Liberation Serif', weight='bold', fontsize=43,
         color='#0d2a6e', ha='center', va='center')
fig.text(482 / W, 1 - 638 / H, 'mBJ', family='Liberation Serif', weight='bold', fontsize=44,
         color='#0d2a6e', ha='center', va='center')
fig.text(20 / W, 1 - 300 / H, 'Energy (eV)', rotation=90, fontsize=11, color='#333333',
         ha='center', va='center')
fig.text(20 / W, 1 - 910 / H, 'Energy (eV)', rotation=90, fontsize=11, color='#333333',
         ha='center', va='center')

fig.savefig('out.png', dpi=100)
